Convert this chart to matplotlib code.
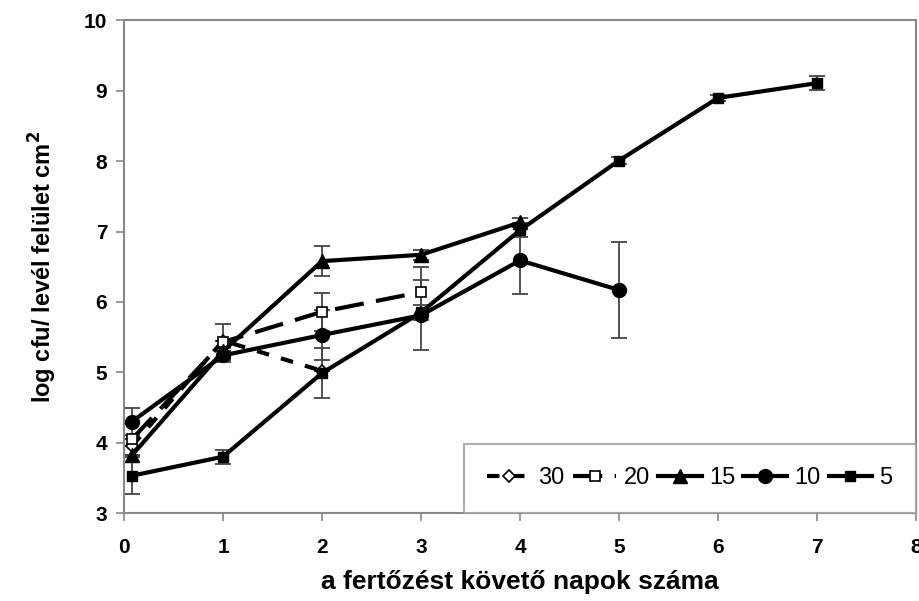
import matplotlib
matplotlib.use("Agg")
import matplotlib.pyplot as plt

plt.rcParams['font.family'] = ['Liberation Sans', 'DejaVu Sans']

# days after infection
days_30 = [0.08, 1, 2]
days_20 = [0.08, 1, 2, 3]
days_15 = [0.08, 1, 2, 3, 4]
days_10 = [0.08, 1, 2, 3, 4, 5]
days_5 = [0.08, 1, 2, 3, 4, 5, 6, 7]

# log cfu per cm2 leaf surface
vals_30 = [3.95, 5.45, 5.02]
vals_20 = [4.05, 5.43, 5.86, 6.14]
vals_15 = [3.82, 5.30, 6.58, 6.67, 7.13]
vals_10 = [4.30, 5.24, 5.53, 5.81, 6.59, 6.17]
vals_5 = [3.53, 3.80, 4.99, 5.85, 7.02, 8.01, 8.90, 9.11]

# standard errors
err_30 = [0.0, 0.0, 0.0]
err_20 = [0.0, 0.25, 0.27, 0.35]
err_15 = [0.0, 0.0, 0.21, 0.07, 0.07]
err_10 = [0.19, 0.10, 0.35, 0.50, 0.48, 0.68]
err_5 = [0.26, 0.10, 0.35, 0.10, 0.10, 0.05, 0.04, 0.10]

labels = ['30', '20', '15', '10', '5']

fig = plt.figure(figsize=(9.2, 6.01), dpi=100)
ax = fig.add_axes([0.1348, 0.1464, 0.8609, 0.8195])

eb_kw = dict(ecolor='#444444', elinewidth=1.3, capsize=6, capthick=1.3)

# error bars first so the lines sit on top
for d, v, e in [(days_30, vals_30, err_30), (days_20, vals_20, err_20),
                (days_15, vals_15, err_15), (days_10, vals_10, err_10),
                (days_5, vals_5, err_5)]:
    ax.errorbar(d, v, yerr=e, fmt='none', zorder=2, **eb_kw)

h30, = ax.plot(days_30, vals_30, color='black', lw=3, dashes=(3, 3),
               marker='D', ms=6, mfc='white', mec='black', mew=1.2, zorder=3)
h20, = ax.plot(days_20, vals_20, color='black', lw=3, dashes=(7, 3),
               marker='s', ms=7, mfc='white', mec='black', mew=1.2, zorder=3)
h15, = ax.plot(days_15, vals_15, color='black', lw=3,
               marker='^', ms=10, mfc='black', mec='black', zorder=3)
h10, = ax.plot(days_10, vals_10, color='black', lw=3,
               marker='o', ms=10, mfc='black', mec='black', zorder=3)
h5, = ax.plot(days_5, vals_5, color='black', lw=3,
              marker='s', ms=7, mfc='black', mec='black', zorder=4)

ax.set_xlim(0, 8)
ax.set_ylim(3, 10)
ax.set_xticks(range(0, 9))
ax.set_yticks(range(3, 11))

for s in ax.spines.values():
    s.set_color('#888888')
    s.set_linewidth(1.5)
ax.tick_params(axis='both', direction='out', length=6, width=1.2, color='#888888',
               labelsize=15)
ax.tick_params(axis='x', pad=12)
ax.tick_params(axis='y', pad=6)
for lab in ax.get_xticklabels() + ax.get_yticklabels():
    lab.set_fontweight('bold')

ax.set_xlabel('a fertőzést követő napok száma', fontsize=19, fontweight='bold',
              labelpad=9)
ax.set_ylabel('log cfu/ levél felület cm$^\\mathbf{2}$', fontsize=17,
              fontweight='bold', labelpad=18)

leg = ax.legend([h30, h20, h15, h10, h5], labels, loc='lower right', ncol=5,
                fontsize=17, frameon=True, fancybox=False, handlelength=1.85,
                handletextpad=0.3, columnspacing=0.35, borderpad=1.0,
                borderaxespad=0.0)
leg.get_frame().set_edgecolor('#999999')
leg.get_frame().set_linewidth(1.5)

fig.savefig('out.png', dpi=100)
